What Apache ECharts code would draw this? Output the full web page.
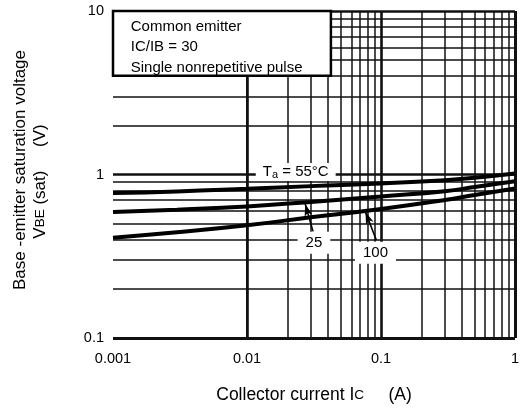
<!DOCTYPE html>
<html>
<head>
<meta charset="utf-8">
<script src="https://cdn.jsdelivr.net/npm/echarts@6/dist/echarts.min.js"></script>
<style>
  html, body { margin: 0; padding: 0; background: #fff; }
  #chart { width: 522px; height: 409px; }
</style>
</head>
<body>
<div id="chart"></div>
<script>
// Collector current IC (A) at which each curve is sampled
const collectorCurrent = [0.001, 0.003, 0.01, 0.03, 0.1, 0.3, 0.5, 1];
// VBE(sat) in volts for each ambient temperature
const vbeMinus55 = [0.771, 0.788, 0.818, 0.849, 0.881, 0.923, 0.955, 1.014];
const vbe25 = [0.589, 0.609, 0.638, 0.680, 0.734, 0.790, 0.838, 0.910];
const vbe100 = [0.411, 0.443, 0.489, 0.547, 0.616, 0.699, 0.750, 0.822];

// Axis tick labels, one per decade
const xTickLabels = ['0.001', '0.01', '0.1', '1'];
const yTickLabels = ['0.1', '1', '10'];

// Curve annotations: text anchor and arrow (tail -> head) in data units
const curveNotes = [
  { label: '{m|T}{s|a}{m| = 55°C}', at: [0.0231, 1.036], pad: [1, 7] },
  { label: '{m|25}', at: [0.0316, 0.382], pad: [3, 8], arrow: [[0.0311, 0.449], [0.0272, 0.660]] },
  { label: '{m|100}', at: [0.091, 0.332], pad: [3, 8], arrow: [[0.0924, 0.396], [0.0766, 0.590]] }
];

const conditionText = 'Common emitter\nIC/IB = 30\nSingle nonrepetitive pulse';
const conditionBox = [[0.001, 10], [0.0423, 4.02]];

const FONT = '"Liberation Sans", Arial, sans-serif';

// log grid: decade lines drawn heavier than the 2..9 lines
function logGrid(lo, hi) {
  const out = [];
  for (let d = lo; d < hi * 0.999; d *= 10) {
    for (let k = 1; k < 10; k++) {
      const v = +(d * k).toPrecision(6);
      if (v > lo * 1.001) out.push({ v, major: k === 1 });
    }
  }
  return out;
}
const xGrid = logGrid(0.001, 1).filter(g => g.v < 0.999);
const yGrid = logGrid(0.1, 10).filter(g => g.v < 9.99);

const gridLines = [];
xGrid.forEach(g => gridLines.push({ xAxis: g.v, lineStyle: { width: g.major ? 2.6 : 1.5 } }));
yGrid.forEach(g => gridLines.push({ yAxis: g.v, lineStyle: { width: g.major ? 2.6 : 1.5 } }));
// frame
gridLines.push({ xAxis: 0.001, lineStyle: { width: 4 } });
gridLines.push({ xAxis: 1, lineStyle: { width: 3 } });
gridLines.push({ yAxis: 0.1, lineStyle: { width: 3 } });
gridLines.push({ yAxis: 10, lineStyle: { width: 2.5 } });

const pairs = ys => collectorCurrent.map((x, i) => [x, ys[i]]);

const chart = echarts.init(document.getElementById('chart'), null, { renderer: 'canvas' });

const curveStyle = {
  type: 'line',
  smooth: 0.5,
  showSymbol: false,
  symbol: 'none',
  silent: true,
  z: 4,
  lineStyle: { color: '#000', width: 4 }
};

chart.setOption({
  animation: false,
  backgroundColor: '#fff',
  textStyle: { fontFamily: FONT, color: '#000' },
  grid: { left: 113, top: 11, width: 406, height: 328, show: false },
  xAxis: {
    type: 'log',
    logBase: 10,
    min: 0.001,
    max: 1,
    interval: 1,
    axisLine: { show: false },
    axisTick: { show: false },
    splitLine: { show: false },
    minorSplitLine: { show: false },
    axisLabel: {
      margin: 13,
      fontSize: 14.5,
      color: '#000',
      fontFamily: FONT,
      formatter: v => xTickLabels[Math.round(Math.log10(v)) + 3]
    },
    name: '{t|Collector current I}{c|C}{t|     (A)}',
    nameLocation: 'middle',
    nameGap: 47,
    nameTextStyle: {
      rich: {
        t: { fontSize: 17.5, fontFamily: FONT, color: '#000', lineHeight: 20 },
        c: { fontSize: 13.5, fontFamily: FONT, color: '#000', lineHeight: 20 }
      }
    }
  },
  yAxis: {
    type: 'log',
    logBase: 10,
    min: 0.1,
    max: 10,
    interval: 1,
    axisLine: { show: false },
    axisTick: { show: false },
    splitLine: { show: false },
    minorSplitLine: { show: false },
    axisLabel: {
      margin: 9,
      fontSize: 14.5,
      color: '#000',
      fontFamily: FONT,
      formatter: v => yTickLabels[Math.round(Math.log10(v)) + 1]
    }
  },
  graphic: [
    {
      type: 'text',
      x: 20, y: 170,
      rotation: Math.PI / 2,
      style: {
        text: 'Base -emitter saturation voltage',
        font: '17px ' + FONT,
        fill: '#000',
        align: 'center',
        verticalAlign: 'middle'
      }
    },
    {
      type: 'text',
      x: 40, y: 181.5,
      rotation: Math.PI / 2,
      style: {
        text: '{t|V}{s|BE}{t| (sat)     (V)}',
        fill: '#000',
        align: 'center',
        verticalAlign: 'middle',
        rich: {
          t: { fontSize: 17, fontFamily: FONT, fill: '#000', lineHeight: 20 },
          s: { fontSize: 13.5, fontFamily: FONT, fill: '#000', lineHeight: 20 }
        }
      }
    }
  ],
  series: [
    {
      // log grid and frame
      type: 'line',
      data: [],
      silent: true,
      clip: false,
      z: 1,
      markLine: {
        silent: true,
        z: 1,
        symbol: ['none', 'none'],
        label: { show: false },
        lineStyle: { color: '#111', type: 'solid', width: 1.5 },
        animation: false,
        data: gridLines
      }
    },
    {
      // test-condition box
      type: 'line',
      data: [],
      silent: true,
      clip: false,
      z: 3,
      markArea: {
        silent: true,
        z: 3,
        itemStyle: { color: '#fff', opacity: 1, borderColor: '#000', borderWidth: 2.5 },
        label: {
          show: true,
          position: [19, 6.5],
          fontSize: 15,
          lineHeight: 20.5,
          fontFamily: FONT,
          color: '#000',
          formatter: conditionText
        },
        data: [[{ coord: conditionBox[0] }, { coord: conditionBox[1] }]]
      }
    },
    Object.assign({ name: '-55', data: pairs(vbeMinus55) }, curveStyle),
    Object.assign({ name: '25', data: pairs(vbe25) }, curveStyle),
    Object.assign({ name: '100', data: pairs(vbe100) }, curveStyle),
    {
      // temperature labels on white tags
      type: 'scatter',
      silent: true,
      z: 6,
      symbolSize: 1,
      itemStyle: { color: 'rgba(0,0,0,0)' },
      data: curveNotes.map(n => ({
        value: n.at,
        label: {
          show: true,
          position: 'inside',
          formatter: n.label,
          color: '#000',
          opacity: 1,
          textBorderWidth: 0,
          backgroundColor: '#fff',
          padding: n.pad,
          rich: {
            m: { fontSize: 15, fontFamily: FONT, color: '#000', lineHeight: 16 },
            s: { fontSize: 11, fontFamily: FONT, color: '#000', lineHeight: 10, verticalAlign: 'bottom' }
          }
        }
      }))
    },
    {
      // leader arrows
      type: 'line',
      data: [],
      silent: true,
      clip: false,
      z: 7,
      markLine: {
        silent: true,
        z: 7,
        symbol: ['none', 'arrow'],
        symbolSize: [6, 12],
        label: { show: false },
        lineStyle: { color: '#000', type: 'solid', width: 1.6 },
        itemStyle: { color: '#000' },
        data: curveNotes.filter(n => n.arrow).map(n => [
          { coord: n.arrow[0] },
          { coord: n.arrow[1] }
        ])
      }
    }
  ]
});
</script>
</body>
</html>
